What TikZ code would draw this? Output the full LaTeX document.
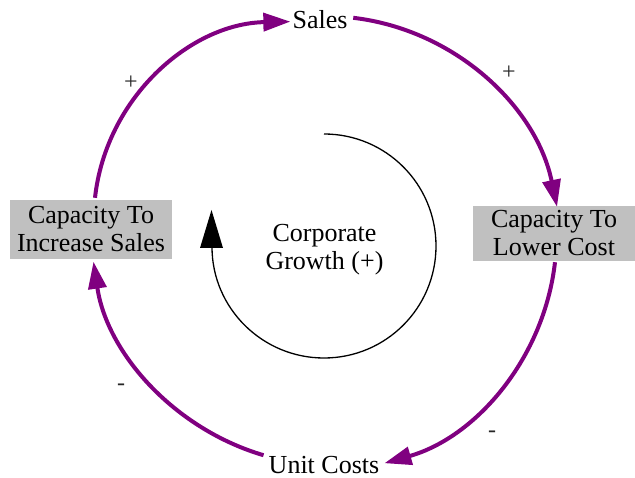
\documentclass[tikz,border=0pt]{standalone}
\usepackage{fontspec}
\setmainfont{Liberation Serif}
\usetikzlibrary{arrows.meta}
\definecolor{loopPurple}{RGB}{128,0,128}
\definecolor{boxGray}{RGB}{192,192,192}
\begin{document}
\begin{tikzpicture}[x=1pt,y=-1pt,
  lbl/.style={font=\fontsize{26}{28}\selectfont, inner sep=0pt, align=center},
  varbox/.style={lbl, fill=boxGray, minimum width=162pt, minimum height=59pt},
  link/.style={draw=loopPurple, line width=4pt, -{Triangle[length=27pt,width=18pt]}},
  pol/.style={font=\fontsize{24}{26}\selectfont, inner sep=0pt, text=black!85},
  loopline/.style={draw=black, line width=1.3pt},
  ]
\useasboundingbox (0,0) rectangle (635,478);
% variables
\node[lbl, anchor=base] (sales) at (320,29) {Sales};
\node[lbl, anchor=base] (ucost) at (324,473.5) {Unit Costs};
\node[varbox] (cis) at (91,229.5) {Capacity To\\Increase Sales};
\node[varbox, minimum height=55pt] (clc) at (554,233.5) {Capacity To\\Lower Cost};
\node[lbl] (loop) at (324.5,249.7) {Corporate\\Growth (+)};
% links
\draw[link] ([shift={(4,-2)}]cis.north) .. controls +(11,-100) and +(-100,2) .. ([shift={(-2,1.5)}]sales.west);
\draw[link] ([shift={(5.6,-2.3)}]sales.east) .. controls +(101.8,12) and +(-20.8,-100.3) .. ([shift={(3,1)}]clc.north);
\draw[link] ([shift={(1,1)}]clc.south) .. controls +(-10.9,95.4) and +(92.3,-26.3) .. ([shift={(5,-1.8)}]ucost.east);
\draw[link] ([shift={(-5,-9.8)}]ucost.west) .. controls +(-89,-26.2) and +(13.6,91.8) .. ([shift={(2.5,2.5)}]cis.south);
% polarities
\node[pol] (p1) at (131,83) {+};
\node[pol] (p2) at (509,73) {+};
\node[pol] (m1) at (121,387) {-};
\node[pol] (m2) at (492,434) {-};
% loop symbol
\draw[loopline] (324,134) .. controls (385.9,134) and (436,184.1) .. (436,246)
  .. controls (436,307.9) and (385.9,358) .. (324,358)
  .. controls (262.1,358) and (212,307.9) .. (212,247);
\fill[black] (211.5,210) -- (200,248) -- (223,248) -- cycle;
\end{tikzpicture}
\end{document}
